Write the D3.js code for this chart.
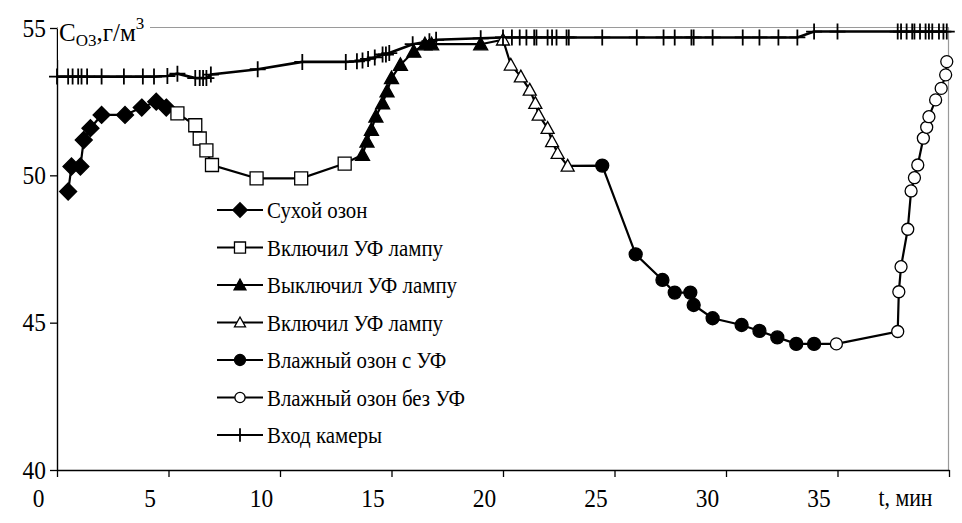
<!DOCTYPE html>
<html><head><meta charset="utf-8">
<script src="https://cdn.jsdelivr.net/npm/d3@7"></script>
<style>
html,body{margin:0;padding:0;background:#fff;}
</style></head>
<body><svg id="c" width="962" height="523"></svg>
<script>
// ---- data ----
const xTicks = [0,5,10,15,20,25,30,35,40];
const yTicks = [40,45,50,55];
const xTickLabels = ["0","5","10","15","20","25","30","35","t, мин"];
const seriesNames = ["Сухой озон","Включил УФ лампу","Выключил УФ лампу","Включил УФ лампу","Влажный озон с УФ","Влажный озон без УФ","Вход камеры"];

const dryT = [0.5,0.65,1.05,1.2,1.5,2.0,3.05,3.8,4.45,4.9];
const dryV = [49.45,50.3,50.3,51.2,51.6,52.05,52.05,52.3,52.5,52.3];

const uvOnT = [5.4,6.2,6.4,6.7,6.95,8.95,10.95,12.9];
const uvOnV = [52.1,51.7,51.25,50.85,50.35,49.9,49.9,50.4];

const uvOffT = [13.7,13.9,14.1,14.3,14.6,14.8,15.0,15.4,16.0,16.5,16.8,19.0];
const uvOffV = [50.7,51.15,51.55,52.0,52.45,52.85,53.3,53.75,54.2,54.45,54.45,54.45];

const uvOn2T = [20.0,20.35,20.8,21.2,21.45,21.6,22.0,22.2,22.45,22.9];
const uvOn2V = [54.6,53.75,53.35,52.9,52.45,52.05,51.6,51.15,50.75,50.32];

const wetUvT = [24.45,25.95,27.15,27.7,28.4,28.55,29.4,30.7,31.5,32.3,33.15,33.95];
const wetUvV = [50.33,47.32,46.45,46.02,46.02,45.6,45.15,44.92,44.72,44.5,44.28,44.28];

const wetNoUvT = [34.95,37.7,37.75,37.85,38.15,38.3,38.45,38.6,38.85,39.0,39.1,39.4,39.65,39.85,39.9];
const wetNoUvV = [44.28,44.7,46.05,46.9,48.17,49.47,49.92,50.35,51.26,51.63,51.99,52.56,52.95,53.41,53.86];

const inletT = [0,0.5,0.7,0.95,1.1,1.35,2.0,3.0,3.85,4.35,4.95,5.4,6.2,6.4,6.55,6.7,6.9,9.0,11.0,12.95,13.45,13.7,13.95,14.25,14.6,14.75,14.9,15.95,16.7,17.0,19.0,20.0,20.4,20.75,21.05,21.4,21.5,22.0,22.2,22.4,22.85,22.95,24.45,26.0,27.2,27.7,28.45,28.55,29.4,30.75,31.5,32.35,33.2,33.95,35.0,37.7,37.85,38.1,38.35,38.45,38.7,38.95,39.1,39.25,39.55,39.75,39.9];
const inletV = [53.35,53.35,53.35,53.35,53.35,53.35,53.35,53.35,53.35,53.35,53.37,53.45,53.3,53.3,53.3,53.3,53.42,53.6,53.85,53.85,53.87,53.9,53.95,54.0,54.1,54.1,54.15,54.45,54.55,54.6,54.65,54.68,54.68,54.68,54.68,54.68,54.68,54.68,54.68,54.68,54.68,54.68,54.68,54.68,54.68,54.68,54.68,54.68,54.68,54.68,54.68,54.68,54.68,54.88,54.88,54.88,54.88,54.88,54.88,54.88,54.88,54.88,54.88,54.88,54.88,54.88,54.88];

// ---- chart ----
const FONT = "Liberation Serif";
const svg = d3.select("#c");
const x = d3.scaleLinear().domain([0,40]).range([57,949]);
const y = d3.scaleLinear().domain([40,55]).range([470,28]);
const SX = 0.87, FS = 24, TFS = 26, TSX = 0.9;
const zip = (t,v)=>t.map((d,i)=>[d,v[i]]);

// plot border (top, right)
svg.append("line").attr("x1",57).attr("x2",949).attr("y1",27.5).attr("y2",27.5).attr("stroke","#9a9a9a").attr("stroke-width",1.2);
svg.append("line").attr("x1",948.5).attr("x2",948.5).attr("y1",27.5).attr("y2",470).attr("stroke","#9a9a9a").attr("stroke-width",1.2);

// axes
const gx = svg.append("g").attr("transform","translate(0,470)")
  .call(d3.axisBottom(x).tickValues(xTicks).tickSize(7).tickSizeOuter(0).tickFormat((d,i)=>xTickLabels[i]));
gx.attr("font-family",FONT);
gx.select(".domain").attr("stroke","#000").attr("stroke-width",1.6);
gx.selectAll(".tick line").attr("stroke","#000").attr("stroke-width",1.3);
gx.selectAll(".tick text").attr("font-size",(d,i)=> i===8 ? 25 : TFS).attr("font-family",FONT).attr("y",0).attr("dy",0)
  .attr("transform",(d,i)=> i===8 ? `translate(-71,36) scale(${SX},1)` : `translate(-19,37) scale(${TSX},1)`)
  .attr("text-anchor",(d,i)=> i===8 ? "start":"middle")
  .attr("fill","#000");

const gy = svg.append("g").attr("transform","translate(57,0)")
  .call(d3.axisLeft(y).tickValues(yTicks).tickSize(7).tickSizeOuter(0).tickFormat(d3.format("d")));
gy.attr("font-family",FONT);
gy.select(".domain").attr("stroke","#000").attr("stroke-width",1.4);
gy.selectAll(".tick line").attr("stroke","#000").attr("stroke-width",1.3);
gy.selectAll(".tick text").attr("font-size",TFS).attr("font-family",FONT).attr("x",0).attr("dy",0)
  .attr("transform",`translate(-11,8) scale(${TSX},1)`).attr("fill","#000");

// y-axis title box
svg.append("rect").attr("x",58).attr("y",12).attr("width",92).attr("height",48).attr("fill","#fff");
const title = svg.append("text").attr("transform",`translate(59,41)`).attr("font-size",25).attr("font-family",FONT).attr("fill","#000");
title.append("tspan").text("C");
title.append("tspan").attr("font-size",17).attr("dy",5).text("O3");
title.append("tspan").attr("dy",-5).text(",г/м");
title.append("tspan").attr("font-size",17).attr("dy",-12).text("3");

// marker shapes
const shapes = {
  diamond: s=>`M0,${-s}L${s},0L0,${s}L${-s},0Z`,
  square: s=>`M${-s},${-s}H${s}V${s}H${-s}Z`,
  triangle: s=>`M0,${-s}L${s},${s*0.8}L${-s},${s*0.8}Z`,
  circle: s=>`M${s},0A${s},${s} 0 1,1 ${-s},0A${s},${s} 0 1,1 ${s},0Z`,
  plus: s=>`M${-s},0H${s}M0,${-s}V${s}`
};
const series = [
  {t:dryT, v:dryV, shape:"diamond", fill:"#000", size:8.5},
  {t:uvOnT, v:uvOnV, shape:"square", fill:"#fff", size:6.5},
  {t:uvOffT, v:uvOffV, shape:"triangle", fill:"#000", size:7},
  {t:uvOn2T, v:uvOn2V, shape:"triangle", fill:"#fff", size:6.5},
  {t:wetUvT, v:wetUvV, shape:"circle", fill:"#000", size:6.5},
  {t:wetNoUvT, v:wetNoUvV, shape:"circle", fill:"#fff", size:6},
  {t:inletT, v:inletV, shape:"plus", fill:"none", size:8}
];

const line = d3.line().x(d=>x(d[0])).y(d=>y(d[1]));
// main curve (series joined end-to-end)
const mainPts = series.slice(0,6).flatMap(s=>zip(s.t,s.v));
svg.append("path").datum(mainPts).attr("d",line).attr("fill","none").attr("stroke","#000").attr("stroke-width",2.2);
// inlet curve
svg.append("path").datum(zip(inletT,inletV)).attr("d",line).attr("fill","none").attr("stroke","#000").attr("stroke-width",2.6);

series.forEach(s=>{
  svg.append("g").selectAll("path").data(zip(s.t,s.v)).join("path")
    .attr("transform",d=>`translate(${x(d[0])},${y(d[1])})`)
    .attr("d",shapes[s.shape](s.size))
    .attr("fill",s.fill).attr("stroke","#000").attr("stroke-width",s.shape==="plus"?1.8:1.3);
});

// legend
const lg = svg.append("g");
seriesNames.forEach((name,i)=>{
  const cy = 210 + i*37.5;
  const s = series[i];
  lg.append("line").attr("x1",217).attr("x2",263).attr("y1",cy).attr("y2",cy).attr("stroke","#000").attr("stroke-width",2.2);
  lg.append("path").attr("transform",`translate(240,${cy})`).attr("d",shapes[s.shape](s.size*0.85))
    .attr("fill",s.fill).attr("stroke","#000").attr("stroke-width",s.shape==="plus"?1.8:1.3);
  lg.append("text").attr("transform",`translate(267,${cy+8}) scale(${SX},1)`).attr("font-size",FS).attr("font-family",FONT).attr("fill","#000").text(name);
});
</script></body></html>
